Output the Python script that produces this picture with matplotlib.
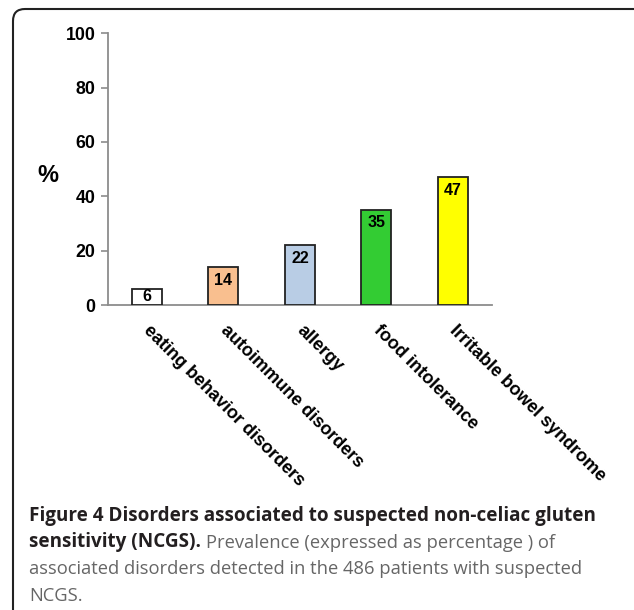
import matplotlib
matplotlib.use("Agg")
import matplotlib.pyplot as plt
from matplotlib.patches import FancyBboxPatch
from matplotlib.transforms import IdentityTransform

categories = ["eating behavior disorders", "autoimmune disorders", "allergy",
              "food intolerance", "Irritable bowel syndrome"]
values = [6, 14, 22, 35, 47]
bar_colors = ["#FFFFFF", "#F9BF8F", "#B9CDE5", "#33CC33", "#FFFF00"]
yticks = [0, 20, 40, 60, 80, 100]

W, H, DPI = 634, 610, 100
fig = plt.figure(figsize=(W / DPI, H / DPI), dpi=DPI)
fig.patch.set_facecolor("white")

# frame around figure + caption
frame = FancyBboxPatch((13, -40), 700, 601 + 40, boxstyle="round,pad=0,rounding_size=12",
                       transform=IdentityTransform(), facecolor="none",
                       edgecolor="#222222", linewidth=1.5)
fig.add_artist(frame)

ax = fig.add_axes([108 / W, 1 - 305 / H, (492 - 108) / W, (305 - 33.3) / H])
x = list(range(len(values)))
bars = ax.bar(x, values, width=0.39, color=bar_colors, edgecolor="#222222",
              linewidth=1.3, zorder=3)
ax.set_xlim(-0.507, 4.51)
ax.set_ylim(0, 100)
ax.set_yticks(yticks)
ax.set_yticklabels([str(t) for t in yticks], fontfamily="Liberation Sans",
                   fontweight="bold", fontsize=12.8)
ax.set_xticks([])
for s in ["top", "right"]:
    ax.spines[s].set_visible(False)
for s in ["left", "bottom"]:
    ax.spines[s].set_color("#8c8c8c")
    ax.spines[s].set_linewidth(1.3)
ax.tick_params(axis="y", length=5, width=1.2, color="#8c8c8c", pad=4)

for xi, v in zip(x, values):
    if v < 10:
        ax.text(xi, v / 2, str(v), ha="center", va="center", fontsize=11.5,
                fontweight="bold", fontfamily="Liberation Sans", zorder=4)
    else:
        ax.annotate(str(v), (xi, v), xytext=(0, -4), textcoords="offset points",
                    ha="center", va="top", fontsize=11.5, fontweight="bold",
                    fontfamily="Liberation Sans", zorder=4)

for xi, c in zip(x, categories):
    ax.annotate(c, (xi, 0), xytext=(4, -12), textcoords="offset points",
                rotation=-45, rotation_mode="anchor", ha="left", va="top",
                fontsize=13, fontweight="bold", fontfamily="Liberation Sans",
                annotation_clip=False)

fig.text(48 / W, 1 - 175 / H, "%", ha="center", va="center", fontsize=17,
         fontweight="bold", fontfamily="Liberation Sans")

# caption
cap_fs = 13.6
norm_fs = 13.2
bold_col = "#231F20"
norm_col = "#666666"
x0 = 29 / W
baselines = [521, 547.5, 574.5, 601]
fig.text(x0, 1 - baselines[0] / H,
         "Figure 4 Disorders associated to suspected non-celiac gluten",
         fontfamily="Open Sans", fontweight="bold", fontsize=cap_fs,
         color=bold_col, va="baseline", ha="left")
t2 = fig.text(x0, 1 - baselines[1] / H, "sensitivity (NCGS).",
              fontfamily="Open Sans", fontweight="bold", fontsize=cap_fs,
              color=bold_col, va="baseline", ha="left")
fig.canvas.draw()
bb = t2.get_window_extent()
fig.text((bb.x1 + 5) / W, 1 - baselines[1] / H,
         "Prevalence (expressed as percentage ) of",
         fontfamily="Open Sans", fontsize=norm_fs, color=norm_col,
         va="baseline", ha="left")
fig.text(x0, 1 - baselines[2] / H,
         "associated disorders detected in the 486 patients with suspected",
         fontfamily="Open Sans", fontsize=norm_fs, color=norm_col,
         va="baseline", ha="left")
fig.text(x0, 1 - baselines[3] / H, "NCGS.",
         fontfamily="Open Sans", fontsize=norm_fs, color=norm_col,
         va="baseline", ha="left")

fig.savefig("out.png", dpi=DPI, facecolor="white")
